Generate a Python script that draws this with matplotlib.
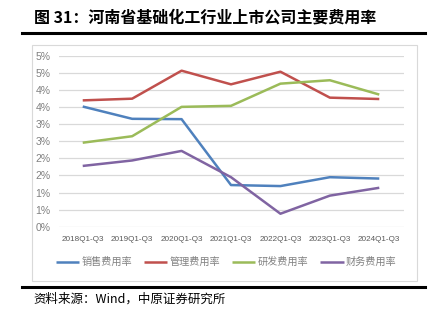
import matplotlib
matplotlib.use("Agg")
import matplotlib.pyplot as plt
from matplotlib.lines import Line2D
from matplotlib.patches import Rectangle

plt.rcParams['font.family'] = ['Noto Sans CJK SC', 'DejaVu Sans']

categories = ["2018Q1-Q3", "2019Q1-Q3", "2020Q1-Q3", "2021Q1-Q3",
              "2022Q1-Q3", "2023Q1-Q3", "2024Q1-Q3"]
sales = [3.52, 3.16, 3.15, 1.22, 1.19, 1.45, 1.41]
admin = [3.70, 3.75, 4.57, 4.17, 4.54, 3.78, 3.74]
rnd = [2.46, 2.65, 3.51, 3.54, 4.19, 4.29, 3.87]
finance = [1.78, 1.94, 2.22, 1.45, 0.38, 0.91, 1.14]
series_names = ["销售费用率", "管理费用率", "研发费用率", "财务费用率"]
y_ticks = [0, 0.5, 1, 1.5, 2, 2.5, 3, 3.5, 4, 4.5, 5]
y_tick_labels = ["0%", "1%", "1%", "2%", "2%", "3%", "3%", "4%", "4%", "5%", "5%"]

colors = ["#4F81BD", "#C0504D", "#9BBB59", "#8064A2"]

W, H = 436, 327
fig = plt.figure(figsize=(W / 100, H / 100), dpi=100)

def fx(px):
    return px / W

def fy(py):
    return 1 - py / H

# title
fig.text(fx(34), fy(18), "图 31：河南省基础化工行业上市公司主要费用率",
         fontsize=11.5, fontweight='bold', va='center', ha='left', color='black')
fig.add_artist(Line2D([fx(22), fx(425)], [fy(33), fy(33)], color='black', lw=2.2))
fig.add_artist(Line2D([fx(22), fx(425)], [fy(287), fy(287)], color='black', lw=2.2))
fig.text(fx(33), fy(299), "资料来源：Wind，中原证券研究所", fontsize=9,
         va='center', ha='left', color='black')

# chart frame
fig.add_artist(Rectangle((fx(31.5), fy(281)), fx(416.5) - fx(31.5), fy(44.5) - fy(281),
                         fill=False, edgecolor='#D9D9D9', lw=0.8))

ax = fig.add_axes([fx(59), fy(226.7), fx(404) - fx(59), fy(56) - fy(226.7)])
x = list(range(len(categories)))
for vals, c, name in zip([sales, admin, rnd, finance], colors, series_names):
    ax.plot(x, vals, color=c, lw=1.8, label=name, solid_capstyle='butt')

ax.set_xlim(-0.48, 6.5)
ax.set_ylim(0, 5)
ax.set_yticks(y_ticks)
ax.set_yticklabels(y_tick_labels, fontsize=7.5, family=['Liberation Sans'], color='#808080')
ax.set_xticks(x)
ax.set_xticklabels(categories, fontsize=5.9, family=['Liberation Sans'], color='#595959')
ax.tick_params(length=0)
ax.tick_params(axis='x', pad=7)
ax.tick_params(axis='y', pad=6)
ax.grid(axis='y', color='#D9D9D9', lw=0.9)
ax.set_axisbelow(True)
for s in ax.spines.values():
    s.set_visible(False)

leg = fig.legend(loc='center', bbox_to_anchor=(fx(226), fy(262)), ncol=4, frameon=False,
                 fontsize=7.3, handlelength=2.3, handletextpad=0.2, columnspacing=1.2,
                 labelcolor='#808080')

fig.savefig("out.png", dpi=100)
